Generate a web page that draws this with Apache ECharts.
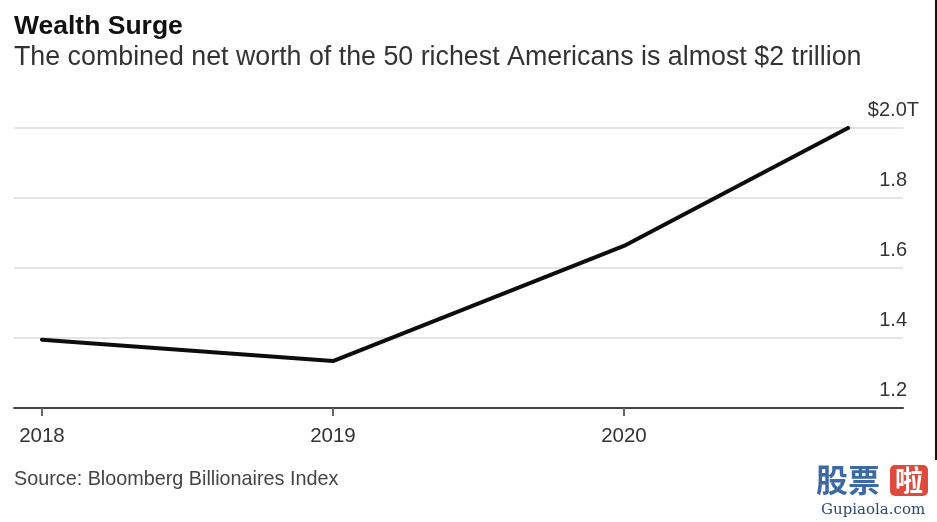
<!DOCTYPE html>
<html>
<head>
<meta charset="utf-8">
<script src="https://cdn.jsdelivr.net/npm/echarts@6/dist/echarts.min.js"></script>
<style>
html,body{margin:0;padding:0;background:#fff;}
#chart{width:937px;height:522px;}
</style>
</head>
<body>
<div id="chart"></div>
<script>
// Data
const titleText = 'Wealth Surge';
const subtitleText = 'The combined net worth of the 50 richest Americans is almost $2 trillion';
const sourceText = 'Source: Bloomberg Billionaires Index';
// decimal years (last point ~ Oct 2020)
const dates = [2018, 2019, 2020, 2020.77];
const netWorth = [1.395, 1.334, 1.663, 2.0]; // trillions USD
const xTickYears = [2018, 2019, 2020];
const yTicks = [1.2, 1.4, 1.6, 1.8, 2.0];

const chart = echarts.init(document.getElementById('chart'), null, {renderer: 'canvas'});
const FONT = '"Liberation Sans", Arial, Helvetica, sans-serif';

const option = {
  backgroundColor: '#ffffff',
  animation: false,
  title: [
    {text: titleText, left: 9, top: 8,
     textStyle: {fontFamily: FONT, fontSize: 26.5, fontWeight: 'bold', color: '#111'}},
    {text: subtitleText, left: 9, top: 39,
     textStyle: {fontFamily: FONT, fontSize: 26.8, fontWeight: 'normal', color: '#333'}},
    {text: sourceText, left: 9, top: 465,
     textStyle: {fontFamily: FONT, fontSize: 19.8, fontWeight: 'normal', color: '#444'}}
  ],
  grid: {left: 14, right: 34, top: 128, bottom: 114, containLabel: false},
  xAxis: {
    type: 'value',
    min: 2017.904,
    max: 2020.959,
    splitLine: {show: false},
    axisLine: {show: true, lineStyle: {color: '#444', width: 2}},
    axisTick: {show: true, customValues: xTickYears, length: 8, lineStyle: {color: '#666', width: 2}},
    axisLabel: {
      customValues: xTickYears,
      formatter: v => String(Math.round(v)),
      margin: 18,
      fontFamily: FONT, fontSize: 20.5, color: '#333'
    }
  },
  yAxis: {
    type: 'value',
    position: 'right',
    min: 1.2,
    max: 2.0,
    interval: 0.2,
    axisLine: {show: false},
    axisTick: {show: false},
    splitLine: {show: true, lineStyle: {color: '#e4e4e4', width: 2}},
    axisLabel: {
      inside: true,
      margin: -16,
      verticalAlign: 'bottom',
      padding: [0, 0, 8, 0],
      formatter: v => {
        const r = Math.round(v * 10) / 10;
        if (Math.abs(r - 2.0) < 1e-6) return '{n|$2.0}{t|T}';
        return '{n|' + r.toFixed(1) + '}{s|}';
      },
      rich: {
        n: {fontFamily: FONT, fontSize: 20, color: '#333'},
        t: {fontFamily: FONT, fontSize: 20, color: '#333'},
        s: {width: 12, fontSize: 20}
      }
    }
  },
  series: [{
    type: 'line',
    data: dates.map((d, i) => [d, netWorth[i]]),
    symbol: 'none',
    lineStyle: {color: '#0d0d0d', width: 4, join: 'round', cap: 'round'},
    z: 5
  }],
  graphic: [
    {type: 'rect', shape: {x: 935, y: 0, width: 2, height: 460}, style: {fill: '#111'}},
    {type: 'text', x: 816, y: 464,
     style: {text: '股票', fontFamily: '"Noto Sans CJK SC"', fontSize: 32, fontWeight: 'bold', fill: '#3d69a5'}},
    {type: 'rect', shape: {x: 890, y: 465, width: 38, height: 31, r: 5}, style: {fill: '#e04a3c'}},
    {type: 'text', x: 909, y: 480,
     style: {text: '啦', fontFamily: '"Noto Sans CJK SC"', fontSize: 28, fontWeight: 'bold', fill: '#fff', align: 'center', verticalAlign: 'middle'}},
    {type: 'text', x: 821, y: 503,
     style: {text: 'Gupiaola.com', fontFamily: '"DejaVu Serif", "Liberation Serif", serif', fontSize: 15, fill: '#2c4a70'}}
  ]
};
chart.setOption(option);
</script>
</body>
</html>
